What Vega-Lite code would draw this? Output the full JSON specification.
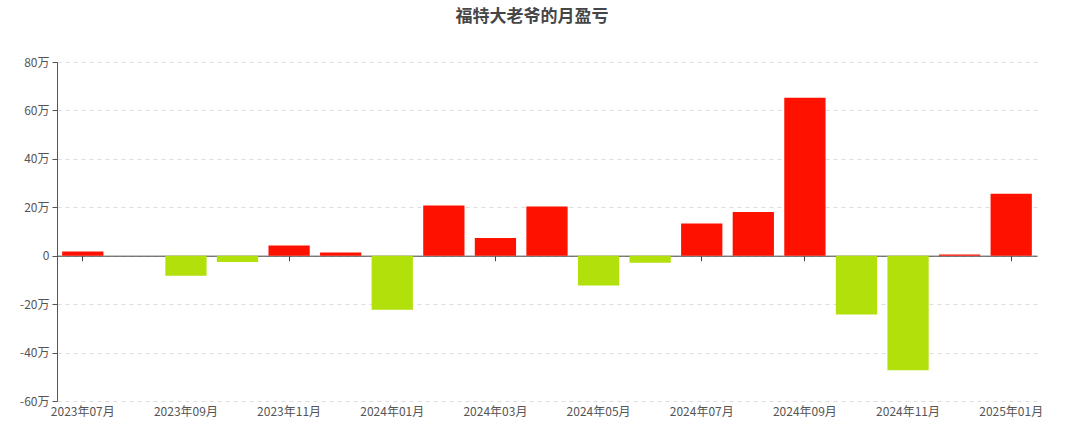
{
  "$schema": "https://vega.github.io/schema/vega-lite/v6.json",
  "width": 980,
  "height": 339,
  "autosize": {"type": "none"},
  "padding": {"left": 57, "top": 62, "right": 37, "bottom": 42},
  "background": "white",
  "config": {
    "view": {"stroke": null},
    "font": "Noto Sans CJK SC"
  },
  "title": {
    "text": "福特大老爷的月盈亏",
    "anchor": "middle",
    "frame": "group",
    "dx": -15,
    "offset": 30,
    "fontSize": 17,
    "fontWeight": "bold",
    "color": "#464646",
    "font": "Noto Sans CJK SC"
  },
  "data": {
    "values": [
      {"month": "2023年07月", "pnl": 1.7},
      {"month": "2023年08月", "pnl": 0},
      {"month": "2023年09月", "pnl": -8.3},
      {"month": "2023年10月", "pnl": -2.6},
      {"month": "2023年11月", "pnl": 4.2},
      {"month": "2023年12月", "pnl": 1.3},
      {"month": "2024年01月", "pnl": -22.3},
      {"month": "2024年02月", "pnl": 20.7},
      {"month": "2024年03月", "pnl": 7.3},
      {"month": "2024年04月", "pnl": 20.3},
      {"month": "2024年05月", "pnl": -12.3},
      {"month": "2024年06月", "pnl": -2.9},
      {"month": "2024年07月", "pnl": 13.3},
      {"month": "2024年08月", "pnl": 18.1},
      {"month": "2024年09月", "pnl": 65.2},
      {"month": "2024年10月", "pnl": -24.3},
      {"month": "2024年11月", "pnl": -47.3},
      {"month": "2024年12月", "pnl": 0.5},
      {"month": "2025年01月", "pnl": 25.6}
    ]
  },
  "resolve": {"axis": {"x": "independent", "y": "independent"}},
  "layer": [
    {
      "mark": {"type": "bar"},
      "encoding": {
        "x": {
          "field": "month",
          "type": "ordinal",
          "sort": null,
          "scale": {"paddingInner": 0.2, "paddingOuter": 0.1},
          "axis": {
            "title": null,
            "labelAngle": 0,
            "values": ["2023年07月", "2023年09月", "2023年11月", "2024年01月", "2024年03月", "2024年05月", "2024年07月", "2024年09月", "2024年11月", "2025年01月"],
            "domain": false,
            "ticks": false,
            "grid": false,
            "labelFontSize": 12,
            "labelColor": "#555",
            "labelPadding": 5,
            "labelFont": "Noto Sans CJK SC"
          }
        },
        "y": {
          "field": "pnl",
          "type": "quantitative",
          "scale": {"domain": [-60, 80], "nice": false, "zero": true},
          "axis": {
            "title": null,
            "values": [-60, -40, -20, 0, 20, 40, 60, 80],
            "labelExpr": "datum.value == 0 ? '0' : datum.value + '万'",
            "grid": true,
            "gridDash": [4, 4],
            "gridColor": "#dcdcdc",
            "domainColor": "#555",
            "tickColor": "#555",
            "tickSize": 5,
            "labelFontSize": 12,
            "labelColor": "#555",
            "labelPadding": 3,
            "labelFont": "Noto Sans CJK SC"
          }
        },
        "color": {
          "condition": {"test": "datum.pnl >= 0", "value": "#ff1100"},
          "value": "#b2e00b"
        }
      }
    },
    {
      "mark": {"type": "bar", "opacity": 0},
      "encoding": {
        "x": {
          "field": "month",
          "type": "ordinal",
          "sort": null,
          "axis": {
            "title": null,
            "orient": "bottom",
            "offset": -145.3,
            "labels": false,
            "values": ["2023年07月", "2023年09月", "2023年11月", "2024年01月", "2024年03月", "2024年05月", "2024年07月", "2024年09月", "2024年11月", "2025年01月"],
            "domain": true,
            "domainColor": "#444",
            "ticks": true,
            "tickColor": "#444",
            "tickSize": 5,
            "grid": false
          }
        },
        "y": {
          "field": "pnl",
          "type": "quantitative",
          "axis": null
        }
      }
    }
  ]
}
